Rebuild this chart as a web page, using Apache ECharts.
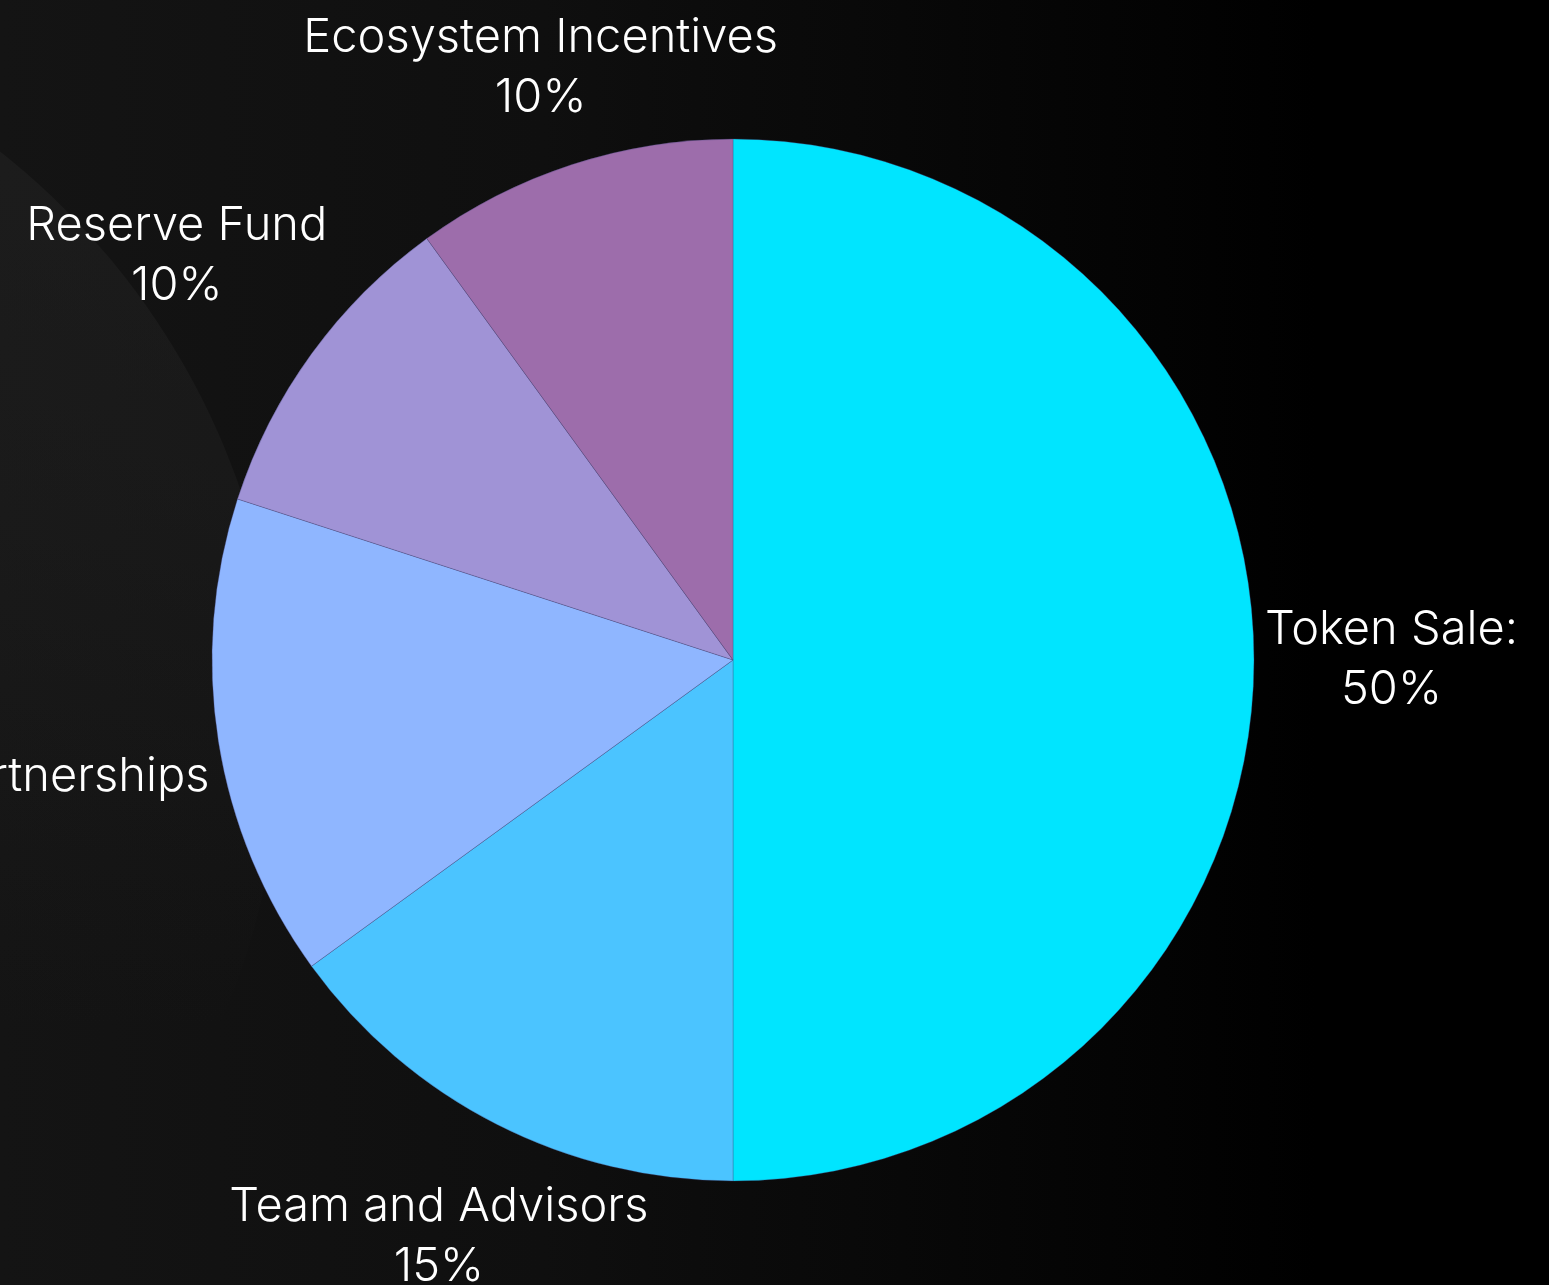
<!DOCTYPE html>
<html>
<head>
<meta charset="utf-8">
<script src="https://cdn.jsdelivr.net/npm/echarts@6/dist/echarts.min.js"></script>
<style>
  html, body { margin: 0; padding: 0; width: 1549px; height: 1285px; overflow: hidden; }
  body { background: linear-gradient(90deg, #141414 0%, #0f0f0f 35%, #060606 65%, #000000 85%); position: relative; }
  #glow { position: absolute; left: -1195px; top: -7px; width: 1476px; height: 1476px; border-radius: 50%;
          background: linear-gradient(180deg, rgba(40,40,40,0.45) 0%, rgba(40,40,40,0.3) 35%, rgba(40,40,40,0) 70%); }
  #chart { position: absolute; left: 0; top: 0; width: 1549px; height: 1285px; }
</style>
</head>
<body>
<div id="glow"></div>
<div id="chart"></div>
<script>
const categories = ['Token Sale', 'Team and Advisors', 'Marketing and Strategic Partnerships', 'Reserve Fund', 'Ecosystem Incentives'];
const labelTitles = ['Token Sale:', 'Team and Advisors', 'Marketing and Strategic Partnerships', 'Reserve Fund', 'Ecosystem Incentives'];
const values = [50, 15, 15, 10, 10];
const colors = ['#00E5FF', '#4BC4FF', '#8FB6FF', '#A093D6', '#9D6DAB'];

const CENTER = ['47.32%', '51.36%'];
const RADIUS = 521;
const GAP = 11;
const TOP_TRIM = 8;

const chart = echarts.init(document.getElementById('chart'), null, { renderer: 'canvas' });
const total = values.reduce((s, v) => s + v, 0);
const cumBefore = values.map((v, i) => values.slice(0, i).reduce((s, x) => s + x, 0));

function clearance(px, py, cx0, cy0, a, b) {
  const nx = Math.min(Math.max(cx0, px - a), px + a);
  const ny = Math.min(Math.max(cy0, py - b + TOP_TRIM), py + b);
  return Math.hypot(nx - cx0, ny - cy0);
}

const option = {
  backgroundColor: 'transparent',
  animation: false,
  series: [{
    type: 'pie',
    center: CENTER,
    radius: RADIUS,
    startAngle: 90,
    clockwise: true,
    avoidLabelOverlap: false,
    data: categories.map((c, i) => ({ name: c, value: values[i], itemStyle: { color: colors[i] } })),
    itemStyle: { borderColor: 'rgba(70,70,130,0.55)', borderWidth: 0.6 },
    label: {
      show: true,
      position: 'outside',
      color: '#ffffff',
      fontFamily: 'Inter, "Noto Sans", sans-serif',
      fontWeight: 300,
      fontSize: 47,
      lineHeight: 60,
      overflow: 'none',
      formatter: (p) => labelTitles[p.dataIndex] + '\n' + p.value + '%'
    },
    labelLine: { show: false, length: 0, length2: 0 },
    emphasis: { disabled: true },
    labelLayout: function (params) {
      const i = params.dataIndex;
      const w = chart.getWidth(), h = chart.getHeight();
      const cx = parseFloat(CENTER[0]) / 100 * w;
      const cy = parseFloat(CENTER[1]) / 100 * h;
      const mid = -Math.PI / 2 + 2 * Math.PI * (cumBefore[i] + values[i] / 2) / total;
      const vx = Math.cos(mid), vy = Math.sin(mid);
      const a = params.labelRect.width / 2, b = params.labelRect.height / 2;
      const ax = cx + RADIUS * vx, ay = cy + RADIUS * vy;
      // smallest push along the radial direction that keeps the label box clear of the pie
      let lo = 0, hi = 3000;
      for (let k = 0; k < 60; k++) {
        const t = (lo + hi) / 2;
        if (clearance(ax + t * vx, ay + t * vy, cx, cy, a, b) >= RADIUS + GAP) hi = t; else lo = t;
      }
      return { x: ax + hi * vx, y: ay + hi * vy, align: 'center', verticalAlign: 'middle' };
    }
  }]
};
chart.setOption(option);
</script>
</body>
</html>
